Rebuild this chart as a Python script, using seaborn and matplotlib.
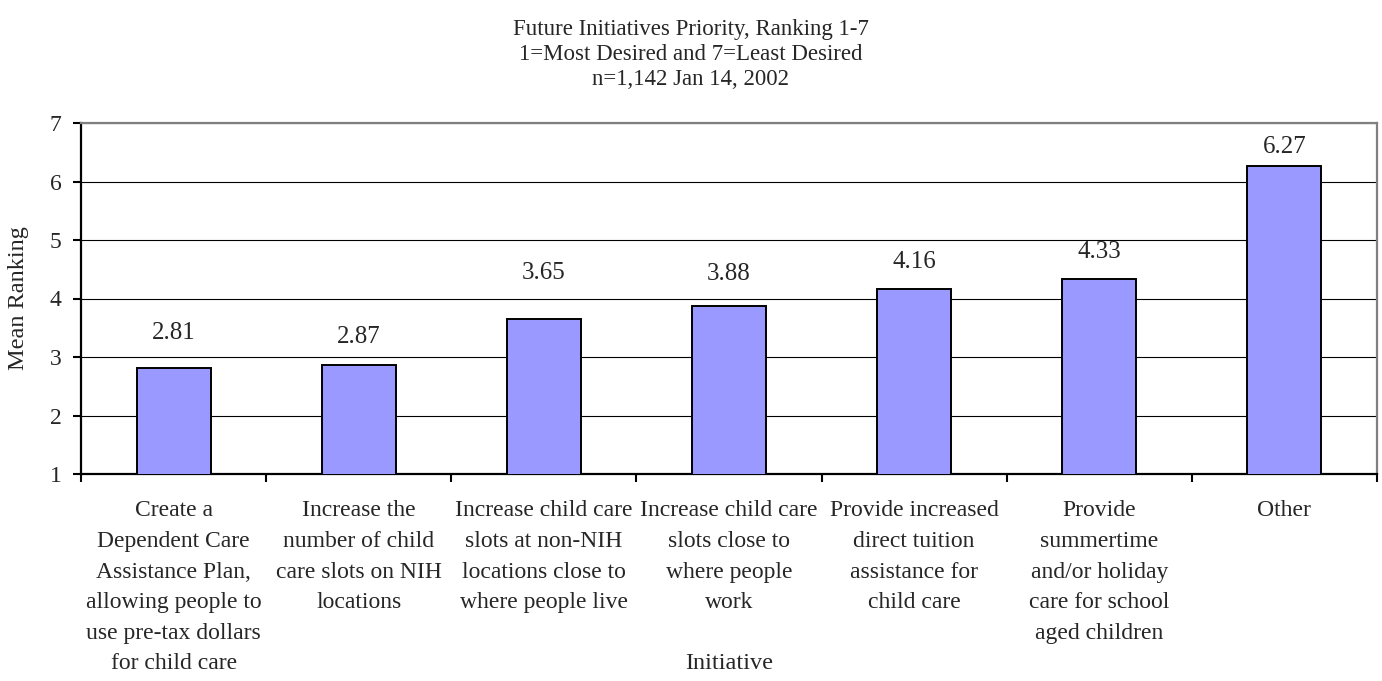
import numpy as np
import pandas as pd
import seaborn as sns

import matplotlib
matplotlib.use('Agg')
import matplotlib.pyplot as plt

# data
initiatives = [
    'Create a\nDependent Care\nAssistance Plan,\nallowing people to\nuse pre-tax dollars\nfor child care',
    'Increase the\nnumber of child\ncare slots on NIH\nlocations',
    'Increase child care\nslots at non-NIH\nlocations close to\nwhere people live',
    'Increase child care\nslots close to\nwhere people\nwork',
    'Provide increased\ndirect tuition\nassistance for\nchild care',
    'Provide\nsummertime\nand/or holiday\ncare for school\naged children',
    'Other',
]
mean_ranking = [2.81, 2.87, 3.65, 3.88, 4.16, 4.33, 6.27]
y_ticks = [1, 2, 3, 4, 5, 6, 7]

# label gaps above bars (pixels), as in the original
label_pad = [35, 28, 46, 32, 27, 27, 19]

df = pd.DataFrame({'Initiative': initiatives, 'Mean Ranking': mean_ranking})

sns.set_style('white')
plt.rcParams['font.family'] = ['Liberation Serif', 'DejaVu Serif']

fig = plt.figure(figsize=(13.82, 6.81), dpi=100)
ax = fig.add_axes([81 / 1382, 1 - 474 / 681, 1296 / 1382, 351 / 681])

sns.barplot(data=df, x='Initiative', y='Mean Ranking', color='#9999FF',
            saturation=1, width=0.4, edgecolor='black', linewidth=1.4, ax=ax,
            zorder=3)

ax.set_ylim(1, 7)
ax.set_xlim(-0.5, len(initiatives) - 0.5)
ax.set_yticks(y_ticks)
ax.set_yticklabels([str(t) for t in y_ticks], fontsize=17)
ax.yaxis.grid(True, color='black', linewidth=0.8, zorder=0)
ax.set_axisbelow(True)

# x ticks sit between categories, labels in the middle
ax.set_xticks(np.arange(-0.5, len(initiatives), 1.0))
ax.set_xticklabels([])
ax.set_xticks(np.arange(len(initiatives)), minor=True)
ax.set_xticklabels(initiatives, minor=True, fontsize=17, linespacing=1.6,
                   va='top')
ax.tick_params(axis='x', which='minor', length=0, pad=19)
ax.tick_params(axis='x', which='major', direction='out', length=6,
               width=1.5, color='black', bottom=True)
ax.tick_params(axis='y', direction='out', length=6, width=1.5, color='black',
               left=True, pad=8)

for s in ['left', 'bottom']:
    ax.spines[s].set_color('black')
    ax.spines[s].set_linewidth(1.6)
for s in ['top', 'right']:
    ax.spines[s].set_color('#808080')
    ax.spines[s].set_linewidth(1.6)

for i, (v, p) in enumerate(zip(mean_ranking, label_pad)):
    ax.annotate(f'{v:.2f}', xy=(i, v), xytext=(0, p),
                textcoords='offset pixels', ha='center', va='center',
                fontsize=18)

ax.set_ylabel('Mean Ranking', fontsize=17.5)
ax.yaxis.set_label_coords(-0.040, 0.5)
ax.set_xlabel('Initiative', fontsize=17.5, va='top')
ax.xaxis.set_label_coords(0.5, -0.51)

fig.suptitle('Future Initiatives Priority, Ranking 1-7\n'
             '1=Most Desired and 7=Least Desired\n'
             'n=1,142 Jan 14, 2002',
             y=1 - 19 / 681, va='top', fontsize=16.5, linespacing=1.25)

plt.savefig('out.png', dpi=100)
